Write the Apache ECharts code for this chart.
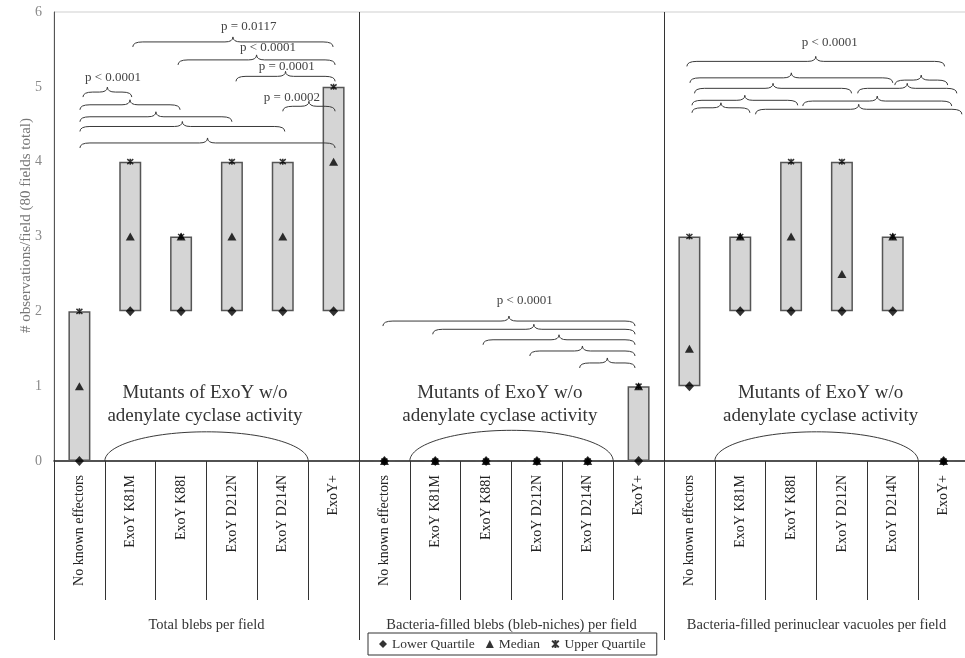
<!DOCTYPE html>
<html><head><meta charset="utf-8">
<script src="https://cdn.jsdelivr.net/npm/echarts@6/dist/echarts.min.js"></script>
<style>html,body{margin:0;padding:0;background:#fff}#c{width:965px;height:658px}</style>
</head><body><div id="c"></div>
<script>
// ---- data ----
const groups = ['Total blebs per field', 'Bacteria-filled blebs (bleb-niches) per field', 'Bacteria-filled perinuclear vacuoles per field'];
const strains = ['No known effectors', 'ExoY K81M', 'ExoY K88I', 'ExoY D212N', 'ExoY D214N', 'ExoY+'];
const lowerQuartile = [0, 2, 2, 2, 2, 2,   0, 0, 0, 0, 0, 0,   1, 2, 2, 2, 2, 0];
const median        = [1, 3, 3, 3, 3, 4,   0, 0, 0, 0, 0, 1,   1.5, 3, 3, 2.5, 3, 0];
const upperQuartile = [2, 4, 3, 4, 4, 5,   0, 0, 0, 0, 0, 1,   3, 3, 4, 4, 3, 0];
const yMin = 0, yMax = 6, yStep = 1;
const yName = '# observations/field (80 fields total)';
// braces: [from category position, to category position, level (y value)]
const braces = [
  [0.07, 1.03, 4.93], [0.01, 1.98, 4.76], [0.01, 3.0, 4.6], [0.01, 4.04, 4.47], [0.01, 5.03, 4.25],
  [4.0, 5.03, 4.74], [3.08, 5.03, 5.14], [1.94, 5.03, 5.36], [1.05, 4.99, 5.6],
  [5.97, 10.93, 1.87], [6.95, 10.93, 1.76], [7.94, 10.93, 1.62], [8.86, 10.93, 1.47], [9.84, 10.93, 1.31],
  [11.95, 17.02, 5.34], [12.01, 16.0, 5.12], [16.04, 17.08, 5.09], [12.1, 15.19, 4.98], [15.31, 17.26, 4.98],
  [12.05, 14.13, 4.82], [14.23, 17.16, 4.81], [12.05, 13.19, 4.72], [13.3, 17.36, 4.7]
];
// p-value labels: [category position, y value, text]
const pLabels = [
  [0.66, 5.12, 'p < 0.0001'], [4.18, 4.86, 'p = 0.0002'], [4.08, 5.27, 'p = 0.0001'],
  [3.71, 5.52, 'p < 0.0001'], [3.33, 5.81, 'p = 0.0117'],
  [8.76, 2.15, 'p < 0.0001'], [14.76, 5.59, 'p < 0.0001']
];
const mutantText = 'Mutants of ExoY w/o\nadenylate cyclase activity';
const mutantNotes = [[2.47, 0.76], [8.27, 0.76], [14.58, 0.76]];
const mutantArcs = [[0.5, 4.5, 0.39], [6.5, 10.5, 0.41], [12.5, 16.5, 0.39]];

// ---- chart ----
const categories = groups.flatMap(() => strains);
const SERIF = '"Liberation Serif", "Times New Roman", serif';
const boxSize = upperQuartile.map((u, i) => u - lowerQuartile[i]);
const STAR = 'path://M0,0L10,10M10,0L0,10M5,-1L5,11';

function bandX(api, u) {
  const p0 = api.coord([0, 0])[0], p1 = api.coord([1, 0])[0];
  return p0 + u * (p1 - p0);
}
function st() { return { stroke: '#3a3a3a', lineWidth: 1, fill: null }; }

const chart = echarts.init(document.getElementById('c'), null, { renderer: 'canvas' });
chart.setOption({
  animation: false,
  backgroundColor: '#fff',
  grid: { left: 54, right: -4, top: 12, bottom: 197, show: true, borderColor: '#cfcfcf', borderWidth: 1, outerBoundsMode: 'none', containLabel: false },
  legend: {
    left: 368, top: 633, itemGap: 11, itemWidth: 8, itemHeight: 8,
    borderColor: '#333', borderWidth: 1, padding: [4, 11], borderRadius: 0,
    textStyle: { fontFamily: SERIF, fontSize: 13.5, color: '#333' },
    data: ['Lower Quartile', 'Median', 'Upper Quartile']
  },
  xAxis: [
    {
      type: 'category', data: categories, boundaryGap: true,
      axisLine: { show: true, lineStyle: { color: '#222', width: 1.5 } },
      axisTick: { show: true, interval: 0, length: 139, lineStyle: { color: '#333', width: 1 } },
      axisLabel: { interval: 0, rotate: 90, margin: 14, fontFamily: SERIF, fontSize: 14, color: '#222' },
      splitLine: { show: false }
    },
    {
      type: 'category', data: groups, position: 'bottom', boundaryGap: true,
      axisLine: { show: false },
      axisTick: { show: true, interval: 0, length: 179, lineStyle: { color: '#333', width: 1 } },
      axisLabel: { interval: 0, margin: 157, fontFamily: SERIF, fontSize: 14.5, color: '#333' },
      splitLine: { show: true, interval: 0, lineStyle: { color: '#333', width: 1 } }
    }
  ],
  yAxis: {
    type: 'value', min: yMin, max: yMax, interval: yStep,
    name: yName, nameLocation: 'middle', nameGap: 20, nameMoveOverlap: false,
    nameTextStyle: { fontFamily: SERIF, fontSize: 15, color: '#777', padding: [0, 0, 0, 22] },
    axisLine: { show: true, lineStyle: { color: '#555', width: 1 } },
    axisTick: { show: false },
    axisLabel: { margin: 12, fontFamily: SERIF, fontSize: 14, color: '#888' },
    splitLine: { show: false }
  },
  series: [
    { name: 'base', type: 'bar', stack: 'q', data: lowerQuartile, barWidth: 22, silent: true,
      itemStyle: { color: 'rgba(0,0,0,0)' } },
    { name: 'box', type: 'bar', stack: 'q', data: boxSize, barWidth: 22, silent: true,
      itemStyle: { color: '#d5d5d5', borderColor: '#555', borderWidth: 1.5 } },
    { name: 'Lower Quartile', type: 'scatter', data: lowerQuartile, symbol: 'diamond', symbolSize: [9, 10], z: 5,
      itemStyle: { color: '#000' } },
    { name: 'Median', type: 'scatter', data: median, symbol: 'triangle', symbolSize: [9, 8], z: 5,
      itemStyle: { color: '#000' } },
    { name: 'Upper Quartile', type: 'scatter', data: upperQuartile, symbol: STAR, symbolSize: 6, z: 5,
      itemStyle: { color: 'rgba(0,0,0,0)', borderColor: '#000', borderWidth: 1.5 } },
    { name: 'braces', type: 'custom', silent: true, z: 6, clip: false,
      data: braces.map(b => [Math.round(b[0]), b[2]]),
      renderItem: (params, api) => {
        const b = braces[params.dataIndex];
        const x1 = bandX(api, b[0]), x2 = bandX(api, b[1]), y = api.coord([0, b[2]])[1];
        const w = x2 - x1, d = 5, r = Math.min(10, w / 5), rt = Math.min(8, w / 6), xm = (x1 + x2) / 2;
        return { type: 'group', children: [
          { type: 'bezierCurve', shape: { x1: x1, y1: y + d, cpx1: x1, cpy1: y, x2: x1 + r, y2: y }, style: st() },
          { type: 'line', shape: { x1: x1 + r, y1: y, x2: xm - rt, y2: y }, style: st() },
          { type: 'bezierCurve', shape: { x1: xm - rt, y1: y, cpx1: xm, cpy1: y, x2: xm, y2: y - d }, style: st() },
          { type: 'bezierCurve', shape: { x1: xm, y1: y - d, cpx1: xm, cpy1: y, x2: xm + rt, y2: y }, style: st() },
          { type: 'line', shape: { x1: xm + rt, y1: y, x2: x2 - r, y2: y }, style: st() },
          { type: 'bezierCurve', shape: { x1: x2 - r, y1: y, cpx1: x2, cpy1: y, x2: x2, y2: y + d }, style: st() }
        ] };
      } },
    { name: 'pvalues', type: 'custom', silent: true, z: 7, clip: false,
      data: pLabels.map(p => [Math.round(p[0]), p[1]]),
      renderItem: (params, api) => {
        const p = pLabels[params.dataIndex];
        return { type: 'text', style: { x: bandX(api, p[0]), y: api.coord([0, p[1]])[1], text: p[2],
          fill: '#444', font: '13px ' + SERIF, align: 'center', verticalAlign: 'middle' } };
      } },
    { name: 'mutants', type: 'custom', silent: true, z: 7, clip: false,
      data: mutantArcs.map(a => [Math.round(a[0]), a[2]]),
      renderItem: (params, api) => {
        const a = mutantArcs[params.dataIndex], n = mutantNotes[params.dataIndex];
        const xa = bandX(api, a[0]), xb = bandX(api, a[1]);
        const y0 = api.coord([0, 0])[1], yt = api.coord([0, a[2]])[1];
        const h = y0 - yt, xm = (xa + xb) / 2, ra = (xb - xa) / 2, k = 0.5523;
        return { type: 'group', children: [
          { type: 'bezierCurve', shape: { x1: xa, y1: y0, cpx1: xa, cpy1: y0 - k * h, cpx2: xm - k * ra, cpy2: yt, x2: xm, y2: yt }, style: st() },
          { type: 'bezierCurve', shape: { x1: xm, y1: yt, cpx1: xm + k * ra, cpy1: yt, cpx2: xb, cpy2: y0 - k * h, x2: xb, y2: y0 }, style: st() },
          { type: 'text', style: { x: bandX(api, n[0]), y: api.coord([0, n[1]])[1], text: mutantText,
            fill: '#333', font: '19px ' + SERIF, align: 'center', verticalAlign: 'middle', lineHeight: 23 } }
        ] };
      } }
  ]
});
</script></body></html>
